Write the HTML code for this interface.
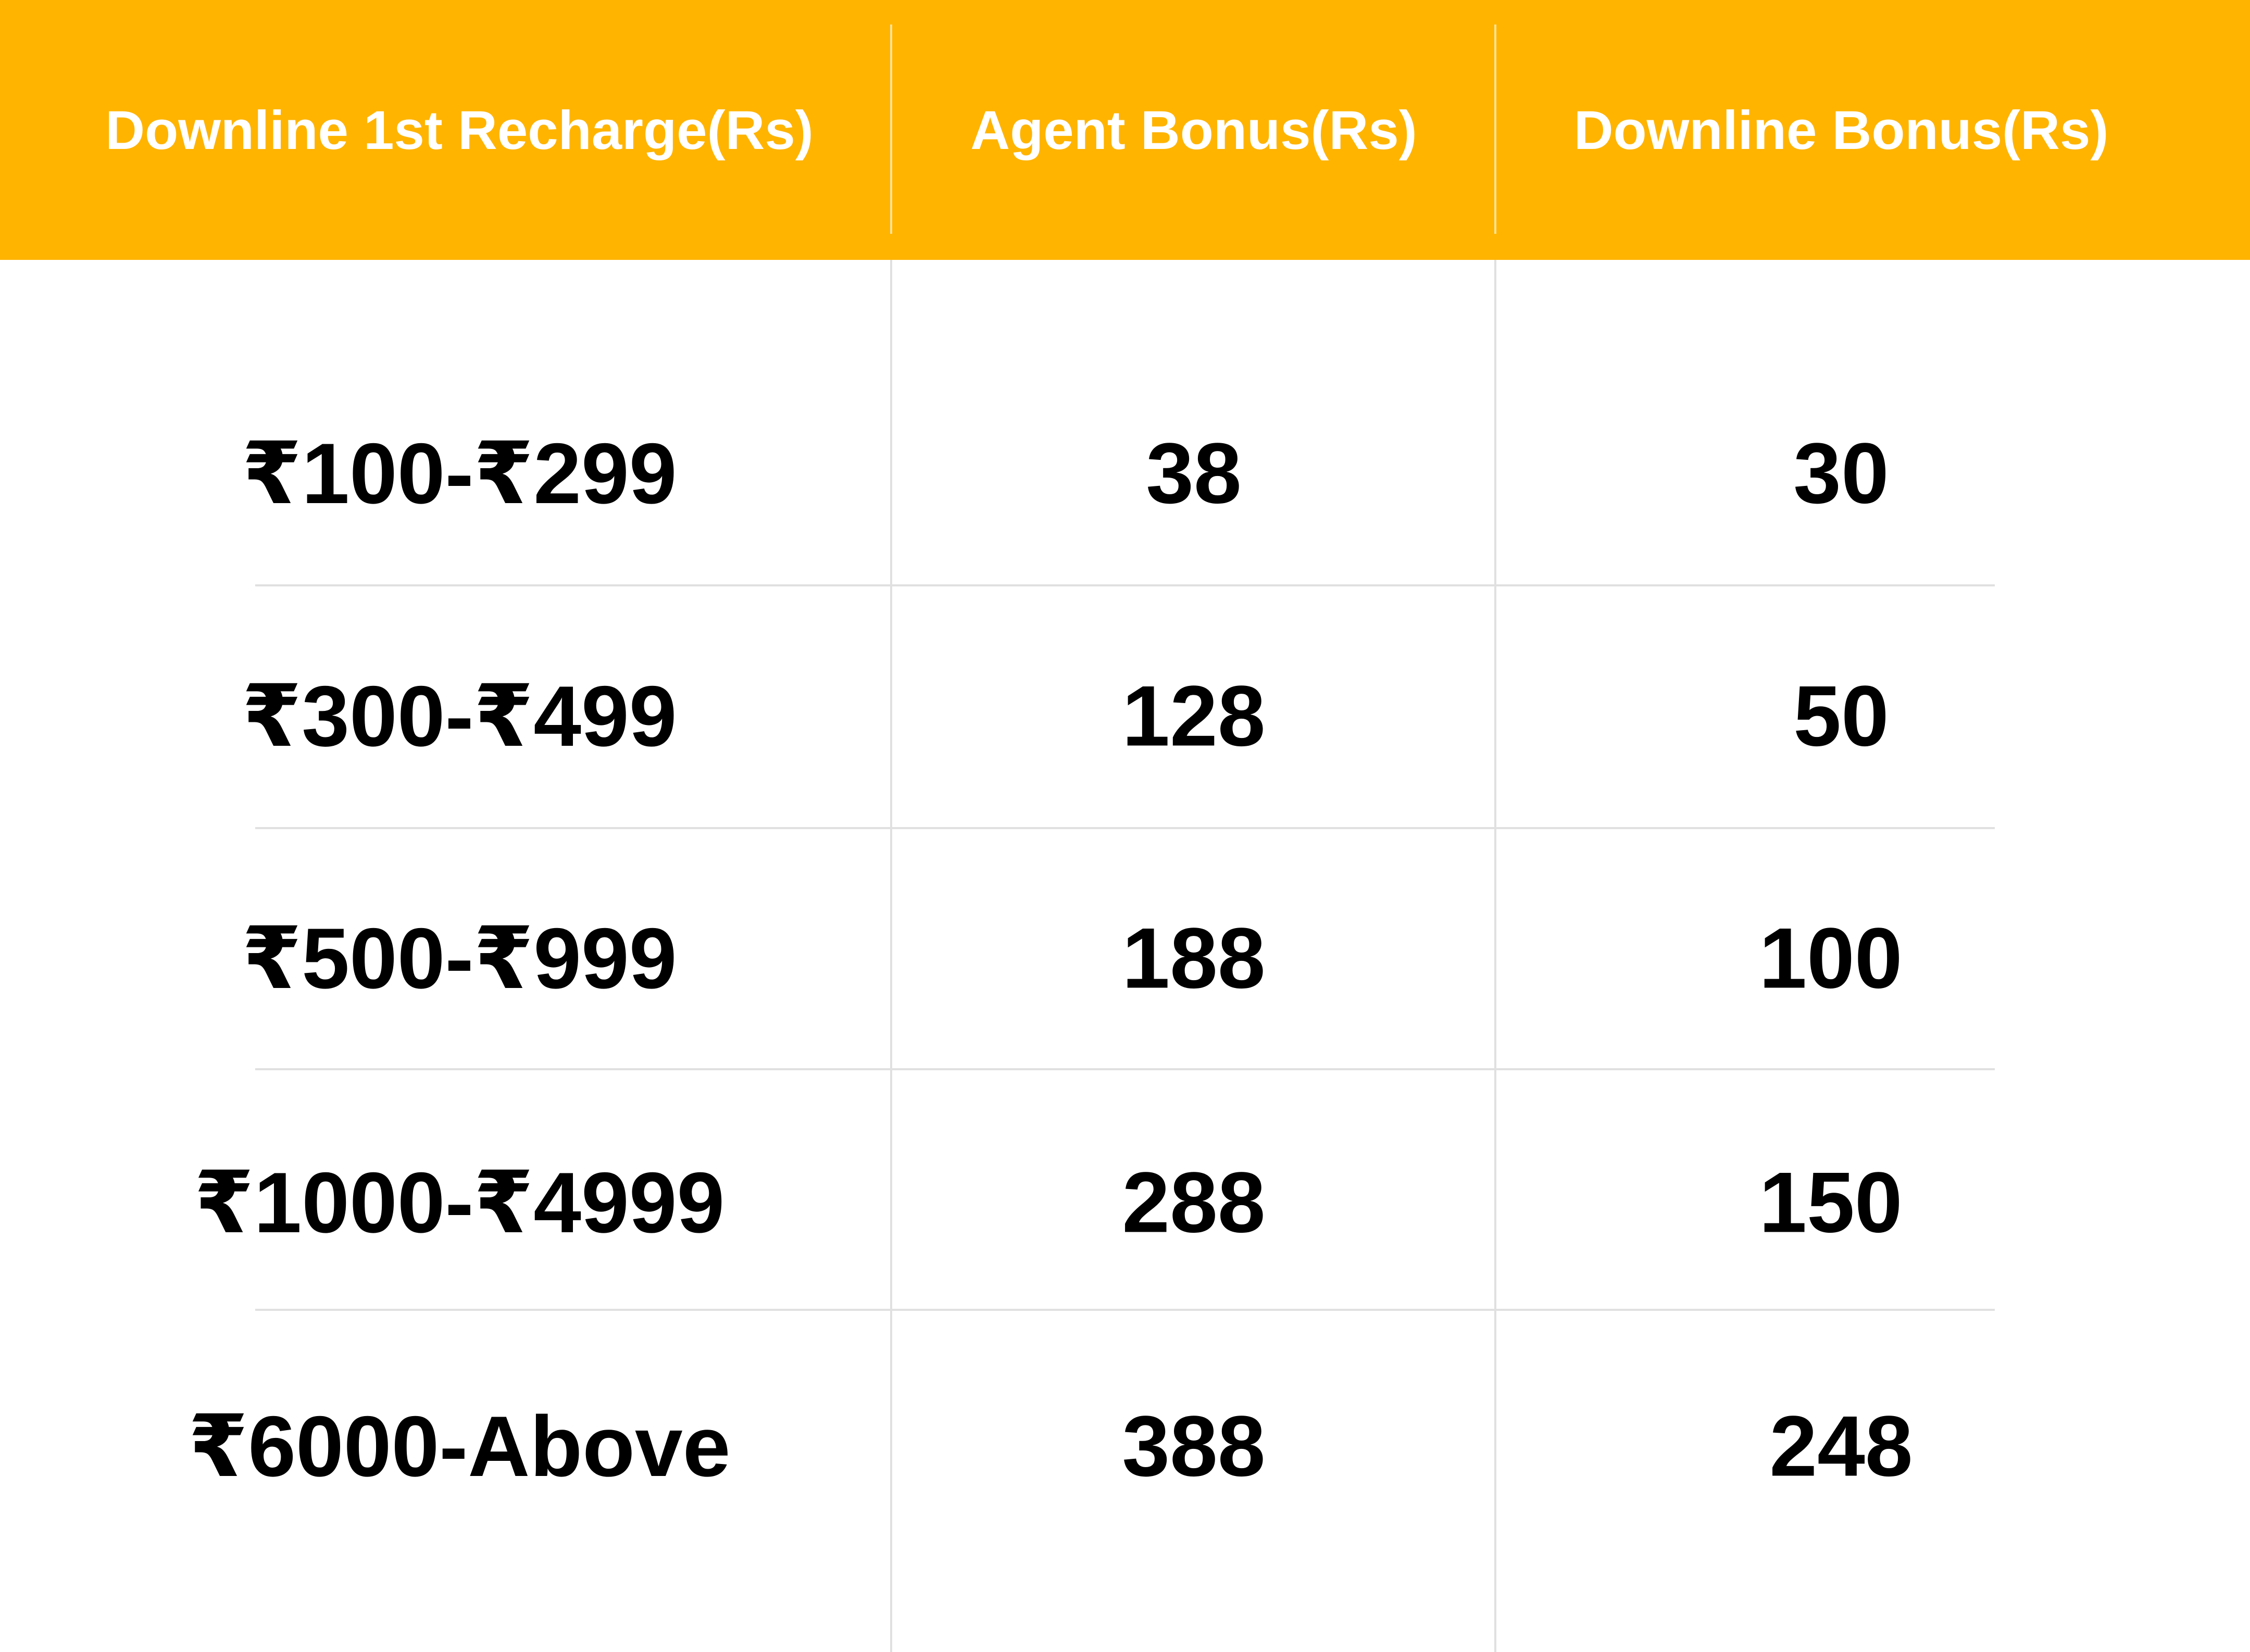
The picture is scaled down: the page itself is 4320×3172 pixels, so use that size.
<!DOCTYPE html>
<html><head><meta charset="utf-8"><style>
html,body{margin:0;padding:0;background:#fff}
#root{position:relative;width:4320px;height:3172px;overflow:hidden;background:#fff;font-family:"Liberation Sans","DejaVu Sans",sans-serif;font-weight:bold}
.hdr{position:absolute;left:0;top:0;width:4320px;height:499px;background:#FFB400}
.ht{position:absolute;top:251px;transform:translate(-50%,-50%);color:#fff;font-size:105px;white-space:nowrap}
.vd{position:absolute;width:4px;background:#e0e0e0}
.hv{position:absolute;width:4px;top:47px;height:402px;background:rgba(255,255,255,0.6)}
.hl{position:absolute;left:490px;width:3340px;height:4px;background:#e0e0e0}
.c{position:absolute;transform:translate(-50%,-50%);color:#000;font-size:165px;white-space:nowrap}
</style></head><body>
<div id="root">
<div class="hdr"></div>
<div class="hv" style="left:1709px"></div>
<div class="hv" style="left:2869px"></div>
<div class="ht" style="left:882px">Downline 1st Recharge(Rs)</div>
<div class="ht" style="left:2292px">Agent Bonus(Rs)</div>
<div class="ht" style="left:3535px">Downline Bonus(Rs)</div>
<div class="vd" style="left:1709px;top:499px;height:2673px"></div>
<div class="vd" style="left:2869px;top:499px;height:2673px"></div>
<div class="hl" style="top:1122px"></div>
<div class="hl" style="top:1588px"></div>
<div class="hl" style="top:2051px"></div>
<div class="hl" style="top:2513px"></div>

<div class="c" style="left:882px;top:909px">₹100-₹299</div>
<div class="c" style="left:2292px;top:909px">38</div>
<div class="c" style="left:3535px;top:909px">30</div>

<div class="c" style="left:882px;top:1375px">₹300-₹499</div>
<div class="c" style="left:2292px;top:1375px">128</div>
<div class="c" style="left:3535px;top:1375px">50</div>

<div class="c" style="left:882px;top:1840px">₹500-₹999</div>
<div class="c" style="left:2292px;top:1840px">188</div>
<div class="c" style="left:3515px;top:1840px">100</div>

<div class="c" style="left:882px;top:2309px">₹1000-₹4999</div>
<div class="c" style="left:2292px;top:2309px">288</div>
<div class="c" style="left:3515px;top:2309px">150</div>

<div class="c" style="left:882px;top:2777px">₹6000-Above</div>
<div class="c" style="left:2292px;top:2777px">388</div>
<div class="c" style="left:3535px;top:2777px">248</div>
</div>
</body></html>
